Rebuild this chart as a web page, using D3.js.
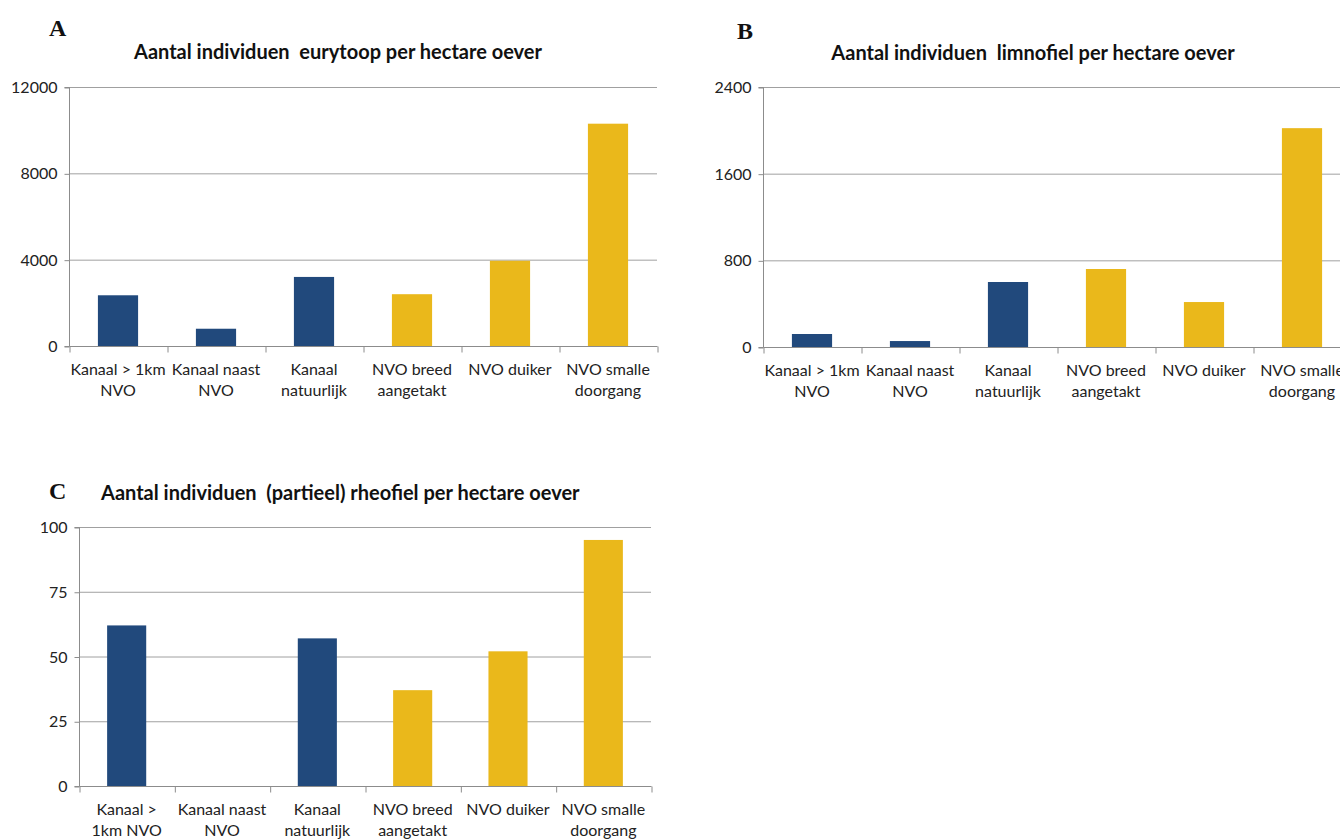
<!DOCTYPE html>
<html><head><meta charset="utf-8">
<script src="https://cdn.jsdelivr.net/npm/d3@7"></script>
<style>body{margin:0;background:#fff}svg{display:block}text{white-space:pre}</style>
</head><body>
<svg id="c" width="1340" height="839"></svg>
<script>
const categoriesAB = [["Kanaal > 1km","NVO"],["Kanaal naast","NVO"],["Kanaal","natuurlijk"],["NVO breed","aangetakt"],["NVO duiker"],["NVO smalle","doorgang"]];
const categoriesC = [["Kanaal >","1km NVO"],["Kanaal naast","NVO"],["Kanaal","natuurlijk"],["NVO breed","aangetakt"],["NVO duiker"],["NVO smalle","doorgang"]];
const groups = ["Kanaal","Kanaal","Kanaal","NVO","NVO","NVO"];
const valuesA = [2350, 800, 3200, 2400, 3950, 10300];
const valuesB = [120, 55, 600, 720, 415, 2020];
const valuesC = [62, 0, 57, 37, 52, 95];
const ticksA = [0, 4000, 8000, 12000];
const ticksB = [0, 800, 1600, 2400];
const ticksC = [0, 25, 50, 75, 100];
const titles = ["Aantal individuen  eurytoop per hectare oever","Aantal individuen  limnofiel per hectare oever","Aantal individuen  (partieel) rheofiel per hectare oever"];
const letters = ["A","B","C"];

const color = {Kanaal:"#21497c", NVO:"#eab81b"};
const svg = d3.select("#c");
const FONT = "Lato, 'Open Sans', sans-serif";

function draw(cfg){
  const g = svg.append("g");
  const idx = d3.range(cfg.values.length);
  const x = d3.scaleBand().domain(idx).range([cfg.x0, cfg.x1]).paddingInner(0.59).paddingOuter(0.295);
  const xb = d3.scaleLinear().domain([0, idx.length]).range([cfg.x0, cfg.x1]);
  const y = d3.scaleLinear().domain([0, d3.max(cfg.ticks)]).range([cfg.y0, cfg.y1]);
  g.selectAll(".grid").data(cfg.ticks.filter(t=>t>0)).join("line")
    .attr("x1", cfg.x0).attr("x2", cfg.x1).attr("y1", d=>y(d)+0.5).attr("y2", d=>y(d)+0.5)
    .attr("stroke","#a0a0a0").attr("stroke-width",1);
  g.selectAll(".bar").data(idx).join("rect")
    .attr("x", i=>x(i)).attr("width", x.bandwidth())
    .attr("y", i=>y(cfg.values[i])).attr("height", i=>cfg.y0 - y(cfg.values[i]))
    .attr("fill", i=>color[groups[i]]);
  const ya = d3.axisLeft(y).tickValues(cfg.ticks).tickSize(5).tickFormat(d3.format("d"));
  const yg = g.append("g").attr("transform",`translate(${cfg.x0+0.5},0.5)`).call(ya);
  yg.select(".domain").attr("stroke","#8c8c8c").attr("d",`M-5,${y.range()[1]}H0V${cfg.y0}H-5`);
  yg.selectAll(".tick line").attr("stroke","#8c8c8c");
  yg.selectAll(".tick text").attr("font-family",FONT).attr("font-size",16).attr("fill","#222").attr("x",-12).attr("dy","0.32em");
  const xa = d3.axisBottom(xb).tickValues(d3.range(idx.length+1)).tickSize(6).tickFormat("");
  const xg = g.append("g").attr("transform",`translate(0.5,${cfg.y0+0.5})`).call(xa);
  xg.select(".domain").attr("stroke","#8c8c8c").attr("d",`M${cfg.x0},0H${cfg.x1}`);
  xg.selectAll(".tick line").attr("stroke","#8c8c8c");
  const lab = g.selectAll(".cat").data(idx).join("text")
    .attr("font-family",FONT).attr("font-size",16).attr("fill","#222").attr("text-anchor","middle")
    .attr("x", i=>x(i)+x.bandwidth()/2).attr("y", cfg.y0+29);
  lab.selectAll("tspan").data(i=>cfg.cats[i]).join("tspan")
    .attr("x", function(){return d3.select(this.parentNode).attr("x");})
    .attr("dy",(d,j)=>j===0?0:21).text(d=>d);
  g.append("text").attr("x",cfg.tx).attr("y",cfg.ty).attr("text-anchor",cfg.tanchor)
    .attr("font-family",FONT).attr("font-weight","bold").attr("font-size",20).attr("fill","#111").text(cfg.title);
  g.append("text").attr("x",cfg.lx).attr("y",cfg.ly)
    .attr("font-family","'Liberation Serif', 'DejaVu Serif', serif").attr("font-weight","bold").attr("font-size",24).attr("fill","#111").text(cfg.letter);
}

draw({values:valuesA, ticks:ticksA, cats:categoriesAB, x0:69, x1:657, y0:346, y1:87, title:titles[0], letter:letters[0], tx:338, ty:59, tanchor:"middle", lx:49, ly:36});
draw({values:valuesB, ticks:ticksB, cats:categoriesAB, x0:763, x1:1351, y0:347, y1:87, title:titles[1], letter:letters[1], tx:1033, ty:60, tanchor:"middle", lx:737, ly:39});
draw({values:valuesC, ticks:ticksC, cats:categoriesC, x0:79, x1:651, y0:786, y1:527, title:titles[2], letter:letters[2], tx:101, ty:500, tanchor:"start", lx:49, ly:499});
</script>
</body></html>
